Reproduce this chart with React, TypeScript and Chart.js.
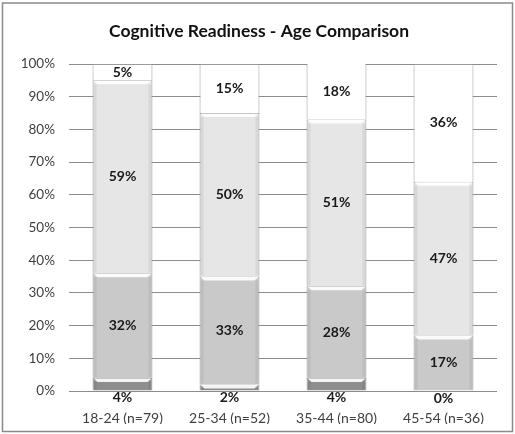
import React, { useEffect, useRef } from "react";
import { Chart, registerables } from "chart.js";

Chart.register(...registerables);

const categories = ["18-24 (n=79)", "25-34 (n=52)", "35-44 (n=80)", "45-54 (n=36)"];
const seriesDark = [4, 2, 4, 0];
const seriesMid = [32, 33, 28, 17];
const seriesLight = [59, 50, 51, 47];
const seriesTop = [5, 15, 18, 36];
const yTicks = [0, 10, 20, 30, 40, 50, 60, 70, 80, 90, 100];
const title = "Cognitive Readiness - Age Comparison";

const FONT = "Lato, 'Open Sans', sans-serif";

const labelPlugin = {
  id: "segLabels",
  afterDatasetsDraw(chart: any) {
    const ctx = chart.ctx;
    ctx.save();
    // bevel highlights on top of the lower segments
    chart.data.datasets.forEach((ds: any, di: number) => {
      if (di === 3) return;
      const meta = chart.getDatasetMeta(di);
      meta.data.forEach((el: any) => {
        const h = el.base - el.y;
        if (h < 2) return;
        const w = el.width;
        const l = el.x - w / 2 + 1;
        const r = el.x + w / 2 - 1;
        const bh = Math.min(4, h - 1);
        ctx.fillStyle = "rgba(255,255,255,0.9)";
        ctx.beginPath();
        ctx.moveTo(l, el.y + 0.5);
        ctx.lineTo(r, el.y + 0.5);
        ctx.lineTo(r - 4, el.y + bh);
        ctx.lineTo(l + 4, el.y + bh);
        ctx.closePath();
        ctx.fill();
        ctx.fillStyle = "rgba(0,0,0,0.06)";
        ctx.fillRect(l, el.y + bh, 3, h - bh - 1);
        ctx.fillRect(r - 3, el.y + bh, 3, h - bh - 1);
      });
    });
    ctx.font = `bold 14px ${FONT}`;
    ctx.fillStyle = "#1a1a1a";
    ctx.textAlign = "center";
    ctx.textBaseline = "middle";
    chart.data.datasets.forEach((ds: any, di: number) => {
      const meta = chart.getDatasetMeta(di);
      meta.data.forEach((el: any, i: number) => {
        const v = ds.data[i];
        const top = Math.max(el.y, chart.chartArea.top);
        let y = (top + el.base) / 2;
        if (di === 0) y = el.base + 7;
        ctx.fillText(`${v}%`, el.x, y);
      });
    });
    ctx.restore();
  },
};

const framePlugin = {
  id: "frame",
  beforeDraw(chart: any) {
    const ctx = chart.ctx;
    ctx.save();
    ctx.fillStyle = "#ffffff";
    ctx.fillRect(0, 0, chart.width, chart.height);
    ctx.strokeStyle = "#8a8a8a";
    ctx.lineWidth = 1.5;
    ctx.strokeRect(2.5, 3, chart.width - 5, chart.height - 5.5);
    ctx.font = `bold 17.5px ${FONT}`;
    ctx.fillStyle = "#111";
    ctx.textAlign = "center";
    ctx.textBaseline = "middle";
    ctx.fillText(title, 259, 31);
    ctx.restore();
  },
};

export default function App() {
  const ref = useRef<HTMLCanvasElement | null>(null);
  useEffect(() => {
    if (!ref.current) return;
    const mk = (data: number[], color: string) => ({
      data,
      backgroundColor: color,
      borderColor: "#9a9a9a",
      borderWidth: 1,
      barPercentage: 0.56,
      categoryPercentage: 1,
    });
    const chart = new Chart(ref.current, {
      type: "bar",
      data: {
        labels: categories,
        datasets: [
          mk(seriesDark, "#8e8e8e"),
          mk(seriesMid, "#c9c9c9"),
          mk(seriesLight, "#e6e6e6"),
          mk(seriesTop, "#ffffff"),
        ],
      },
      options: {
        animation: false,
        responsive: false,
        maintainAspectRatio: false,
        layout: { padding: { top: 64, left: 10, right: 18, bottom: 10 } },
        plugins: { legend: { display: false }, tooltip: { enabled: false } },
        scales: {
          x: {
            stacked: true,
            grid: { display: false },
            border: { display: false },
            ticks: { font: { family: FONT, size: 14 }, color: "#404040", padding: 11 },
            afterFit: (s: any) => { s.height = 33; },
          },
          y: {
            stacked: true,
            min: 0,
            max: 100,
            afterBuildTicks: (s: any) => { s.ticks = yTicks.map((v) => ({ value: v })); },
            grid: { color: "#8c8c8c", drawTicks: false },
            border: { display: false },
            ticks: {
              font: { family: FONT, size: 13.5 },
              color: "#404040",
              padding: 14,
              callback: (v: any) => `${v}%`,
            },
            afterFit: (s: any) => { s.width = 59; },
          },
        },
      },
      plugins: [framePlugin, labelPlugin],
    });
    return () => chart.destroy();
  }, []);
  return (
    <div style={{ position: "fixed", left: 0, top: 0, width: 515, height: 434 }}>
      <canvas ref={ref} width={515} height={434} style={{ width: 515, height: 434 }} />
    </div>
  );
}
